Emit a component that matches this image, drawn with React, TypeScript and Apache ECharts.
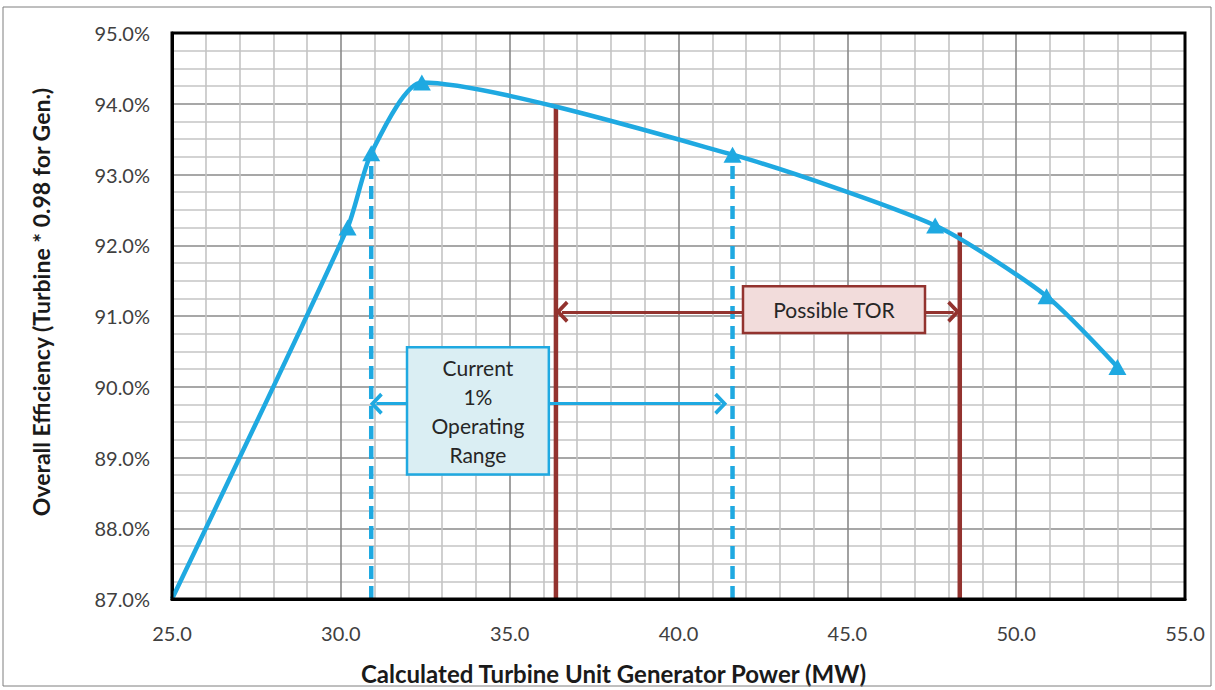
import React, { useEffect, useRef } from "react";
import * as echarts from "echarts";

// Efficiency curve
const powerMW = [25.0, 30.2, 30.9, 32.4, 41.6, 47.6, 50.9, 53.0];
const efficiencyPct = [87.0, 92.25, 93.3, 94.3, 93.28, 92.28, 91.28, 90.28];

// Current 1% operating range (dashed blue verticals)
const currentRangeX = [30.9, 41.6];
const currentRangeTop = [93.3, 93.28];
const currentArrowY = 89.76;
const currentArrowX = [31.05, 41.25];

// Possible TOR (dark red verticals)
const torX = [36.37, 48.33];
const torTop = [93.97, 92.18];
const torArrowY = 91.06;
const torArrowX = [36.55, 48.15];

// Annotation boxes (data coords: [xMin, xMax, yMin, yMax])
const currentBox = [31.96, 36.16, 88.76, 90.56];
const torBox = [41.91, 47.3, 90.76, 91.42];
const currentLabel = "Current\n1%\nOperating\nRange";
const torLabel = "Possible TOR";

const xTitle = "Calculated Turbine Unit Generator Power (MW)";
const yTitle = "Overall Efficiency (Turbine * 0.98 for Gen.)";

const BLUE = "#1FA9E1";
const RED = "#93332F";
const FONT = 'Lato, "Open Sans", sans-serif';
const CHEVRON = "path://M10,0 L20,10 L17.5,12.5 L10,5 L2.5,12.5 L0,10 Z";

export default function App() {
  const ref = useRef<HTMLDivElement>(null);
  useEffect(() => {
    const el = ref.current!;
    const chart = echarts.init(el, null, { renderer: "svg" });

    const vLine = (x: number, top: number, color: string, dashed: boolean) => ({
      type: "line",
      data: [
        [x, 87],
        [x, top],
      ],
      symbol: "none",
      z: 3,
      lineStyle: dashed
        ? { color, width: 4.5, type: [13, 7] }
        : { color, width: 4.5, type: "solid" },
    });

    const arrow = (xs: number[], y: number, color: string) => ({
      type: "line",
      data: [],
      markLine: {
        silent: true,
        symbol: [CHEVRON, CHEVRON],
        symbolSize: [22, 13],
        label: { show: false },
        lineStyle: { color, width: 3, type: "solid" },
        data: [[{ coord: [xs[0], y] }, { coord: [xs[1], y] }]],
      },
    });

    const option: any = {
      animation: false,
      backgroundColor: "#fff",
      grid: { left: 172, right: 30, top: 33, bottom: 90 },
      xAxis: {
        type: "value",
        min: 25,
        max: 55,
        interval: 5,
        name: xTitle,
        nameLocation: "middle",
        nameGap: 62,
        nameTextStyle: {
          fontFamily: FONT,
          fontSize: 24,
          fontWeight: "bold",
          color: "#1a1a1a",
          padding: [0, 130, 0, 0],
        },
        axisLine: { show: true, lineStyle: { color: "#000", width: 3 } },
        axisTick: { show: false },
        axisLabel: {
          margin: 24,
          fontFamily: FONT,
          fontSize: 20,
          color: "#404040",
          formatter: (v: number) => v.toFixed(1),
        },
        splitLine: { show: true, lineStyle: { color: "#8a8a8a", width: 1.6 } },
        minorTick: { show: false, splitNumber: 5 },
        minorSplitLine: { show: true, lineStyle: { color: "#c4c4c4", width: 1.6 } },
      },
      yAxis: {
        type: "value",
        min: 87,
        max: 95,
        interval: 1,
        name: yTitle,
        nameLocation: "middle",
        nameGap: 120,
        nameTextStyle: {
          fontFamily: FONT,
          fontSize: 23,
          fontWeight: "bold",
          color: "#1a1a1a",
          padding: [0, 0, 0, 28],
        },
        axisLine: { show: true, lineStyle: { color: "#000", width: 3 } },
        axisTick: { show: false },
        axisLabel: {
          margin: 22,
          fontFamily: FONT,
          fontSize: 20,
          color: "#404040",
          formatter: (v: number) => v.toFixed(1) + "%",
        },
        splitLine: { show: true, lineStyle: { color: "#8a8a8a", width: 1.6 } },
        minorTick: { show: false, splitNumber: 4 },
        minorSplitLine: { show: true, lineStyle: { color: "#c4c4c4", width: 1.6 } },
      },
      series: [
        vLine(currentRangeX[0], currentRangeTop[0], BLUE, true),
        vLine(currentRangeX[1], currentRangeTop[1], BLUE, true),
        vLine(torX[0], torTop[0], RED, false),
        vLine(torX[1], torTop[1], RED, false),
        arrow(currentArrowX, currentArrowY, BLUE),
        arrow(torArrowX, torArrowY, RED),
        {
          type: "line",
          z: 4,
          smooth: 0.22,
          data: powerMW.map((x, i) =>
            i === 0 ? { value: [x, efficiencyPct[i]], symbol: "none" } : [x, efficiencyPct[i]]
          ),
          symbol: "triangle",
          symbolSize: [18, 16],
          itemStyle: { color: BLUE },
          lineStyle: { color: BLUE, width: 4.5 },
        },
      ],
    };
    chart.setOption(option);

    const px = (x: number, y: number) => chart.convertToPixel({ gridIndex: 0 }, [x, y]) as number[];
    const boxEls = (b: number[], fill: string, stroke: string, text: string, lh: number) => {
      const tl = px(b[0], b[3]);
      const br = px(b[1], b[2]);
      return [
        {
          type: "rect",
          z: 100,
          shape: { x: tl[0], y: tl[1], width: br[0] - tl[0], height: br[1] - tl[1] },
          style: { fill, stroke, lineWidth: 2.5 },
        },
        {
          type: "text",
          z: 101,
          x: (tl[0] + br[0]) / 2,
          y: (tl[1] + br[1]) / 2,
          style: {
            text,
            fill: "#262626",
            fontFamily: FONT,
            fontSize: 21,
            lineHeight: lh,
            align: "center",
            verticalAlign: "middle",
          },
        },
      ];
    };
    const g0 = px(25, 95);
    const g1 = px(55, 87);
    chart.setOption({
      graphic: [
        {
          type: "rect",
          z: 90,
          shape: { x: g0[0], y: g0[1], width: g1[0] - g0[0], height: g1[1] - g0[1] },
          style: { fill: "none", stroke: "#000", lineWidth: 3 },
        },
        {
          type: "rect",
          z: 90,
          shape: { x: 3, y: 7, width: 1208, height: 679 },
          style: { fill: "none", stroke: "#7f7f7f", lineWidth: 1 },
        },
        ...boxEls(currentBox, "#DAEEF3", BLUE, currentLabel, 29),
        ...boxEls(torBox, "#F2DCDB", RED, torLabel, 24),
      ],
    });

    return () => chart.dispose();
  }, []);
  return (
    <div
      ref={ref}
      style={{ position: "absolute", left: 0, top: 0, width: 1215, height: 690 }}
    />
  );
}
